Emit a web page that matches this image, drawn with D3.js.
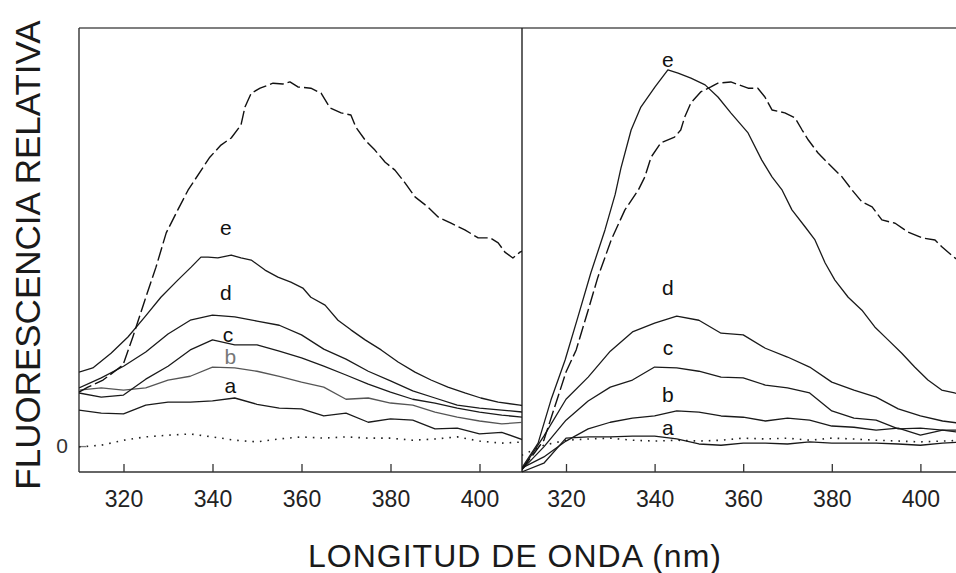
<!DOCTYPE html>
<html>
<head>
<meta charset="utf-8">
<script src="https://cdn.jsdelivr.net/npm/d3@7/dist/d3.min.js"></script>
<style>
  html, body { margin: 0; padding: 0; background: #fff; }
  svg { display: block; font-family: Arial, "Liberation Sans", Helvetica, sans-serif; }
</style>
</head>
<body>
<svg id="chart" width="956" height="573"></svg>
<script>
// ---------- data (relative fluorescence, arbitrary units) ----------
const wavelengths = [310,315,320,325,330,335,340,345,350,355,360,365,370,375,380,385,390,395,400,405,410];
const xTicks = [320, 340, 360, 380, 400];
const yTicks = [0];
const seriesNames = ["a", "b", "c", "d", "e"];

// ----- left panel -----
// dashed curve (finely sampled)
const leftDashedNm  = [310,312,315.4,319.9,322.1,324.8,327.3,329.6,332.2,334.5,337.9,339.4,341.9,344.2,346.4,347.3,348.7,350.7,353.6,355.8,357.4,359.2,362.1,364.4,366.4,368.9,371.1,372.2,374.3,376.5,378.8,381,383.3,385.5,388.4,390.7,393.6,396.7,399.7,402.4,404.2,405.7,407.5,409.1,410];
const leftDashedVal = [12.9,14.1,15.8,19.4,26.1,34.9,42.8,51.0,56.5,61.2,66.7,69.1,72.0,73.7,76.8,81.1,84.4,85.6,86.8,86.6,87.1,85.9,85.6,84.4,80.9,79.7,79.2,76.3,73.2,70.8,67.9,66.0,62.9,59.6,57.2,54.8,53.3,51.7,49.8,49.8,48.6,46.4,45.0,46.4,46.8];
// curve e (finely sampled)
const leftENm  = [310,313.1,317.2,321,324.8,328.4,332.2,335.2,337.4,339,341.2,344.2,346.4,348.7,351.8,354.7,357.6,360.3,362.1,365.3,368.2,371.1,374.3,377.9,381.7,385.5,389.1,392.9,396.7,400.3,404.2,409.1,410];
const leftEVal = [17.7,18.7,22.2,26.1,30.9,35.6,39.7,42.8,45.2,45.2,45.0,45.7,45.0,44.5,42.1,40.4,39.2,37.8,35.6,33.7,30.1,27.8,25.4,23.0,20.1,17.7,15.8,14.1,12.7,11.5,10.5,9.8,9.6];
// curves a-d and the dotted baseline on the 5-nm grid
const leftD = [13.9,16.3,19.1,22.5,26.8,30.1,31.3,30.9,29.9,28.9,26.6,23.2,20.8,17.9,15.6,13.2,11.5,9.8,9.1,8.6,8.1];
const leftC = [12.7,11.7,12.2,16.0,19.1,23.0,25.4,24.2,24.2,22.7,21.1,19.1,17.0,14.8,12.9,11.2,10.3,9.1,8.1,7.4,6.9];
const leftB = [13.4,13.9,13.4,13.9,15.8,16.7,18.9,18.7,17.9,16.7,15.3,14.1,11.2,11.5,10.3,9.8,8.1,6.9,6.0,5.3,5.7];
const leftA = [8.6,7.9,7.7,9.8,10.5,10.5,10.8,11.5,10.0,9.1,8.9,7.2,7.9,5.7,6.5,6.2,4.1,4.3,2.9,3.3,1.4];
const leftDotted = [-0.2,0.2,1.4,2.2,2.6,2.9,2.2,1.4,1.0,1.7,2.2,1.9,2.2,1.9,1.9,1.4,1.7,2.2,1.2,0.7,1.0];

// ----- right panel -----
const rightDashedNm  = [310,315,320,322.3,325,327.2,330.2,333.3,336.3,337.8,339.2,341.4,344.5,345.9,346.8,348.2,350.4,352.7,354.3,357.2,361.1,363.3,364.9,366.5,369.4,371.7,373.3,374.7,376.9,379.1,382.3,384.6,386.8,389.1,391.3,394.3,397.2,400.4,403.3,404.9,407.8,410];
const rightDashedVal = [-5.7,1.4,17.7,23.0,32.5,40.4,49.3,56.5,61.2,64.4,69.1,72.5,73.9,75.6,78.7,82.1,84.7,85.9,86.8,87.1,85.6,85.6,83.5,80.4,79.7,78.5,75.6,73.2,70.1,67.7,64.4,61.2,58.4,57.2,54.1,53.3,51.2,49.8,49.3,47.6,45.0,43.5];
const rightENm  = [310,313.7,316.6,319.8,322.7,325.6,328.8,331.1,332.4,334.7,336.9,340.1,343,345.3,348.2,351.4,354.3,357.2,361.1,364.2,366.5,368.8,371,374,376.2,378.5,380.7,383.7,386.8,389.7,392.7,395.8,398.7,401.7,404.8,407.7,410];
const rightEVal = [-5.3,0.7,11.0,20.6,30.9,41.4,51.7,60.2,66.5,75.6,81.1,85.9,90.0,89.2,88.0,86.4,83.5,79.7,74.9,68.4,64.4,61.2,56.5,52.4,49.3,43.8,39.7,35.6,32.5,28.5,25.4,22.2,18.9,15.8,13.4,12.7,12.2];
const rightD = [-5.7,2.4,11.2,16.5,22.7,27.3,29.4,31.1,30.1,27.0,26.6,23.4,21.3,18.9,15.3,13.4,11.7,8.9,7.2,6.0,5.3];
const rightC = [-5.7,-0.2,6.2,10.8,14.1,15.8,18.9,18.7,17.9,16.5,16.3,14.6,13.9,12.7,8.4,6.7,6.2,4.1,4.3,3.8,3.1];
const rightB = [-5.3,-2.6,1.2,4.1,5.7,6.7,7.2,8.4,8.1,7.2,6.9,6.0,6.7,6.2,4.8,4.5,3.8,4.3,2.6,3.8,3.8];
const rightA = [-6.2,-4.1,1.9,2.2,2.2,2.4,2.4,1.7,0.5,0.2,0.7,0.7,0.5,1.0,0.7,0.7,0.7,0.5,0.2,0.7,1.0];
const rightDotted = [-2.2,0.2,1.4,1.7,1.9,1.4,1.2,1.4,1.2,1.4,1.9,1.7,1.9,1.4,1.9,1.7,1.4,1.2,1.0,1.2,1.4];

// curve-label anchors (wavelength, value) for a..e
const leftLabelNm  = [344, 344, 343.5, 343, 343];
const leftLabelVal = [12.7, 19.6, 25.0, 34.9, 50.5];
const rightLabelNm  = [343, 343, 343, 343, 343];
const rightLabelVal = [2.6, 10.5, 21.8, 36.1, 90.6];

// ---------- layout ----------
const svg = d3.select("#chart");
const plotTop = 28, plotBottom = 472;
const leftX0 = 79, divX = 522, rightEnd = 956;

const y = d3.scaleLinear().domain([-6.2, 100]).range([plotBottom, plotTop]);
const xL = d3.scaleLinear().domain([310, 410]).range([79, 524]);
const xR = d3.scaleLinear().domain([310, 410]).range([521.7, 964.7]);

const defs = svg.append("defs");
defs.append("clipPath").attr("id", "clipL").append("rect")
  .attr("x", leftX0).attr("y", 0).attr("width", divX - leftX0).attr("height", 573);
defs.append("clipPath").attr("id", "clipR").append("rect")
  .attr("x", divX).attr("y", 0).attr("width", rightEnd - divX).attr("height", 573);

const axisColor = "#333";

// frame
svg.append("line").attr("x1", leftX0).attr("x2", rightEnd).attr("y1", plotTop).attr("y2", plotTop)
  .attr("stroke", "#555").attr("stroke-width", 1.4);
svg.append("line").attr("x1", leftX0).attr("x2", rightEnd).attr("y1", plotBottom).attr("y2", plotBottom)
  .attr("stroke", axisColor).attr("stroke-width", 1.4);
svg.append("line").attr("x1", leftX0).attr("x2", leftX0).attr("y1", plotTop).attr("y2", plotBottom)
  .attr("stroke", axisColor).attr("stroke-width", 1.4);
svg.append("line").attr("x1", divX).attr("x2", divX).attr("y1", plotTop).attr("y2", plotBottom)
  .attr("stroke", "#222").attr("stroke-width", 1.4);

// x axes
function xAxis(scale) {
  const g = svg.append("g").attr("transform", `translate(0,${plotBottom})`)
    .call(d3.axisBottom(scale).tickValues(xTicks).tickSize(-8).tickPadding(19).tickFormat(d3.format("d")));
  g.select(".domain").remove();
  g.selectAll(".tick line").attr("stroke", axisColor).attr("stroke-width", 1.3);
  g.selectAll(".tick text").attr("fill", "#222").style("font-size", "23px")
    .style("font-family", "Arial, 'Liberation Sans', sans-serif");
}
xAxis(xL);
xAxis(xR);

// y axis (only the zero tick)
const gy = svg.append("g").attr("transform", `translate(${leftX0},0)`)
  .call(d3.axisLeft(y).tickValues(yTicks).tickSize(-7).tickPadding(11).tickFormat(d3.format("d")));
gy.select(".domain").remove();
gy.selectAll(".tick line").attr("stroke", "#777").attr("stroke-width", 1.3);
gy.selectAll(".tick text").attr("fill", "#333").style("font-size", "21px")
  .style("font-family", "Arial, 'Liberation Sans', sans-serif");

// curves
function drawPanel(xs, clipId, series) {
  const g = svg.append("g").attr("clip-path", `url(#${clipId})`);
  series.forEach(s => {
    const nm = s.nm || wavelengths;
    const line = d3.line().x((d, i) => xs(nm[i])).y(d => y(d));
    g.append("path").datum(s.values)
      .attr("d", line)
      .attr("fill", "none")
      .attr("stroke", s.color)
      .attr("stroke-width", s.width)
      .attr("stroke-dasharray", s.dash)
      .attr("stroke-linejoin", "round");
  });
}

drawPanel(xL, "clipL", [
  { values: leftDotted, color: "#222", width: 1.6, dash: "1.6,6" },
  { values: leftA, color: "#1a1a1a", width: 1.3, dash: null },
  { values: leftB, color: "#555", width: 1.3, dash: null },
  { values: leftC, color: "#1a1a1a", width: 1.3, dash: null },
  { values: leftD, color: "#1a1a1a", width: 1.3, dash: null },
  { values: leftEVal, nm: leftENm, color: "#1a1a1a", width: 1.3, dash: null },
  { values: leftDashedVal, nm: leftDashedNm, color: "#111", width: 1.4, dash: "14,4" }
]);

drawPanel(xR, "clipR", [
  { values: rightDotted, color: "#222", width: 1.6, dash: "1.6,6" },
  { values: rightA, color: "#1a1a1a", width: 1.3, dash: null },
  { values: rightB, color: "#1a1a1a", width: 1.3, dash: null },
  { values: rightC, color: "#1a1a1a", width: 1.3, dash: null },
  { values: rightD, color: "#1a1a1a", width: 1.3, dash: null },
  { values: rightEVal, nm: rightENm, color: "#1a1a1a", width: 1.3, dash: null },
  { values: rightDashedVal, nm: rightDashedNm, color: "#111", width: 1.4, dash: "14,4" }
]);

// curve labels
function labels(xs, nms, vals, colors) {
  svg.append("g").selectAll("text").data(seriesNames).join("text")
    .attr("x", (d, i) => xs(nms[i]))
    .attr("y", (d, i) => y(vals[i]))
    .attr("text-anchor", "middle")
    .attr("fill", (d, i) => colors[i])
    .style("font-size", "21px")
    .text(d => d);
}
labels(xL, leftLabelNm, leftLabelVal, ["#111", "#777", "#111", "#111", "#111"]);
labels(xR, rightLabelNm, rightLabelVal, ["#111", "#111", "#111", "#111", "#111"]);

// axis titles
svg.append("text")
  .attr("transform", "translate(40,255) rotate(-90)")
  .attr("text-anchor", "middle")
  .attr("fill", "#1a1a1a")
  .style("font-size", "35px")
  .text("FLUORESCENCIA RELATIVA");

svg.append("text")
  .attr("x", 515).attr("y", 567)
  .attr("text-anchor", "middle")
  .attr("fill", "#1a1a1a")
  .style("font-size", "32px")
  .style("letter-spacing", "1px")
  .text("LONGITUD DE ONDA (nm)");
</script>
</body>
</html>
